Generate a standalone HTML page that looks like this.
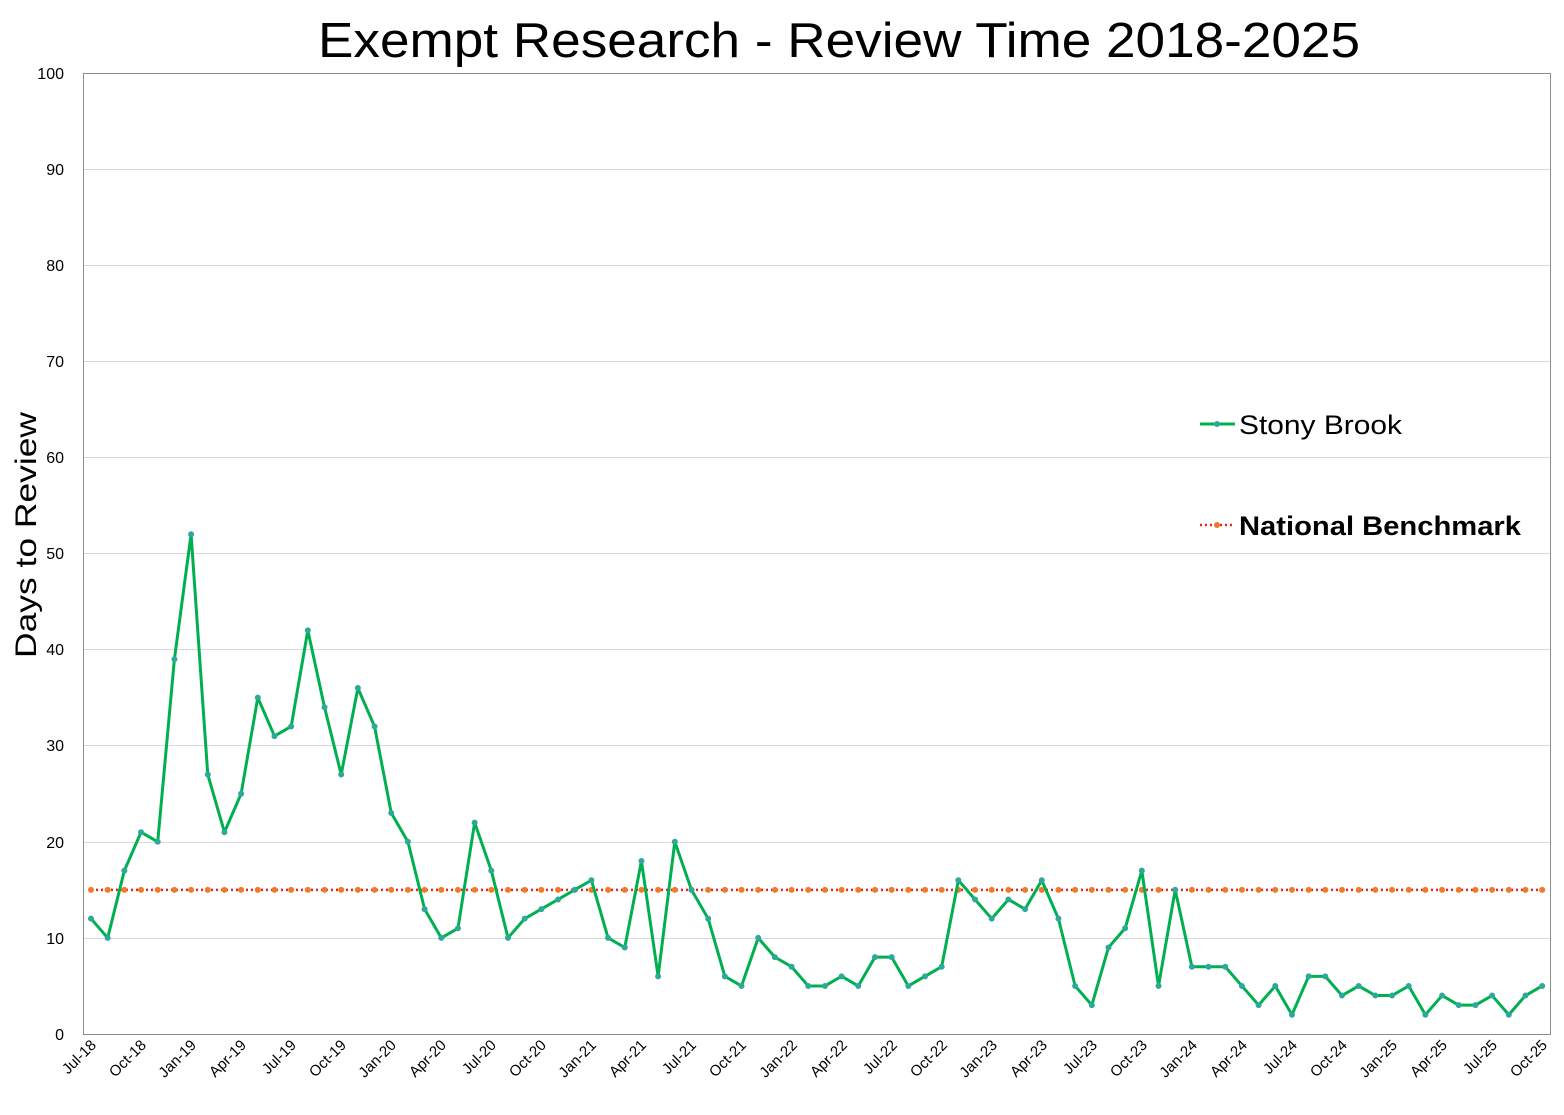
<!DOCTYPE html>
<html><head><meta charset="utf-8"><style>
html,body{margin:0;padding:0;background:#fff;}
svg{display:block;font-family:"Liberation Sans",Arial,sans-serif;}
</style></head><body>
<svg width="1564" height="1115" viewBox="0 0 1564 1115" xmlns="http://www.w3.org/2000/svg">
<rect width="1564" height="1115" fill="#fff"/>
<text x="318" y="57" font-size="49" textLength="1042" lengthAdjust="spacingAndGlyphs" fill="#000">Exempt Research - Review Time 2018-2025</text>
<g stroke="#d9d9d9" stroke-width="1">
<line x1="83" x2="1551" y1="169.5" y2="169.5"/><line x1="83" x2="1551" y1="265.5" y2="265.5"/>
<line x1="83" x2="1551" y1="361.5" y2="361.5"/><line x1="83" x2="1551" y1="457.5" y2="457.5"/>
<line x1="83" x2="1551" y1="553.5" y2="553.5"/><line x1="83" x2="1551" y1="649.5" y2="649.5"/>
<line x1="83" x2="1551" y1="745.5" y2="745.5"/><line x1="83" x2="1551" y1="842.5" y2="842.5"/>
<line x1="83" x2="1551" y1="938.5" y2="938.5"/>
</g>
<rect x="83.5" y="73.5" width="1467" height="961" fill="none" stroke="#8c8c8c" stroke-width="1"/>
<g font-size="16" text-anchor="end" fill="#000">
<text x="64" y="79">100</text><text x="64" y="175">90</text><text x="64" y="271">80</text>
<text x="64" y="367">70</text><text x="64" y="463">60</text><text x="64" y="559">50</text>
<text x="64" y="655">40</text><text x="64" y="751">30</text><text x="64" y="848">20</text>
<text x="64" y="944">10</text><text x="64" y="1040">0</text>
</g>
<text transform="translate(36,658) rotate(-90)" font-size="30" textLength="246" lengthAdjust="spacingAndGlyphs">Days to Review</text>
<g font-size="15" text-anchor="end">
<text transform="translate(97,1046) rotate(-45)">Jul-18</text>
<text transform="translate(147,1046) rotate(-45)">Oct-18</text>
<text transform="translate(197,1046) rotate(-45)">Jan-19</text>
<text transform="translate(247,1046) rotate(-45)">Apr-19</text>
<text transform="translate(297,1046) rotate(-45)">Jul-19</text>
<text transform="translate(347,1046) rotate(-45)">Oct-19</text>
<text transform="translate(397,1046) rotate(-45)">Jan-20</text>
<text transform="translate(447,1046) rotate(-45)">Apr-20</text>
<text transform="translate(497,1046) rotate(-45)">Jul-20</text>
<text transform="translate(547,1046) rotate(-45)">Oct-20</text>
<text transform="translate(597,1046) rotate(-45)">Jan-21</text>
<text transform="translate(647,1046) rotate(-45)">Apr-21</text>
<text transform="translate(697,1046) rotate(-45)">Jul-21</text>
<text transform="translate(747,1046) rotate(-45)">Oct-21</text>
<text transform="translate(798,1046) rotate(-45)">Jan-22</text>
<text transform="translate(848,1046) rotate(-45)">Apr-22</text>
<text transform="translate(898,1046) rotate(-45)">Jul-22</text>
<text transform="translate(948,1046) rotate(-45)">Oct-22</text>
<text transform="translate(998,1046) rotate(-45)">Jan-23</text>
<text transform="translate(1048,1046) rotate(-45)">Apr-23</text>
<text transform="translate(1098,1046) rotate(-45)">Jul-23</text>
<text transform="translate(1148,1046) rotate(-45)">Oct-23</text>
<text transform="translate(1198,1046) rotate(-45)">Jan-24</text>
<text transform="translate(1248,1046) rotate(-45)">Apr-24</text>
<text transform="translate(1298,1046) rotate(-45)">Jul-24</text>
<text transform="translate(1348,1046) rotate(-45)">Oct-24</text>
<text transform="translate(1398,1046) rotate(-45)">Jan-25</text>
<text transform="translate(1448,1046) rotate(-45)">Apr-25</text>
<text transform="translate(1498,1046) rotate(-45)">Jul-25</text>
<text transform="translate(1548,1046) rotate(-45)">Oct-25</text>
</g>
<g transform="translate(91,1034) scale(16.68,-9.61)">
<line x1="0" x2="87" y1="15" y2="15" stroke="#e8261c" stroke-width="2.5" stroke-dasharray="2,3" vector-effect="non-scaling-stroke"/>
<path d="M0,15h0M1,15h0M2,15h0M3,15h0M4,15h0M5,15h0M6,15h0M7,15h0M8,15h0M9,15h0M10,15h0M11,15h0M12,15h0M13,15h0M14,15h0M15,15h0M16,15h0M17,15h0M18,15h0M19,15h0M20,15h0M21,15h0M22,15h0M23,15h0M24,15h0M25,15h0M26,15h0M27,15h0M28,15h0M29,15h0M30,15h0M31,15h0M32,15h0M33,15h0M34,15h0M35,15h0M36,15h0M37,15h0M38,15h0M39,15h0M40,15h0M41,15h0M42,15h0M43,15h0M44,15h0M45,15h0M46,15h0M47,15h0M48,15h0M49,15h0M50,15h0M51,15h0M52,15h0M53,15h0M54,15h0M55,15h0M56,15h0M57,15h0M58,15h0M59,15h0M60,15h0M61,15h0M62,15h0M63,15h0M64,15h0M65,15h0M66,15h0M67,15h0M68,15h0M69,15h0M70,15h0M71,15h0M72,15h0M73,15h0M74,15h0M75,15h0M76,15h0M77,15h0M78,15h0M79,15h0M80,15h0M81,15h0M82,15h0M83,15h0M84,15h0M85,15h0M86,15h0M87,15h0" stroke="#f07a2a" stroke-width="6" stroke-linecap="round" vector-effect="non-scaling-stroke"/>
<polyline fill="none" stroke="#00b050" stroke-width="3" stroke-linejoin="round" vector-effect="non-scaling-stroke" points="0,12 1,10 2,17 3,21 4,20 5,39 6,52 7,27 8,21 9,25 10,35 11,31 12,32 13,42 14,34 15,27 16,36 17,32 18,23 19,20 20,13 21,10 22,11 23,22 24,17 25,10 26,12 27,13 28,14 29,15 30,16 31,10 32,9 33,18 34,6 35,20 36,15 37,12 38,6 39,5 40,10 41,8 42,7 43,5 44,5 45,6 46,5 47,8 48,8 49,5 50,6 51,7 52,16 53,14 54,12 55,14 56,13 57,16 58,12 59,5 60,3 61,9 62,11 63,17 64,5 65,15 66,7 67,7 68,7 69,5 70,3 71,5 72,2 73,6 74,6 75,4 76,5 77,4 78,4 79,5 80,2 81,4 82,3 83,3 84,4 85,2 86,4 87,5"/>
<path d="M0,12h0M1,10h0M2,17h0M3,21h0M4,20h0M5,39h0M6,52h0M7,27h0M8,21h0M9,25h0M10,35h0M11,31h0M12,32h0M13,42h0M14,34h0M15,27h0M16,36h0M17,32h0M18,23h0M19,20h0M20,13h0M21,10h0M22,11h0M23,22h0M24,17h0M25,10h0M26,12h0M27,13h0M28,14h0M29,15h0M30,16h0M31,10h0M32,9h0M33,18h0M34,6h0M35,20h0M36,15h0M37,12h0M38,6h0M39,5h0M40,10h0M41,8h0M42,7h0M43,5h0M44,5h0M45,6h0M46,5h0M47,8h0M48,8h0M49,5h0M50,6h0M51,7h0M52,16h0M53,14h0M54,12h0M55,14h0M56,13h0M57,16h0M58,12h0M59,5h0M60,3h0M61,9h0M62,11h0M63,17h0M64,5h0M65,15h0M66,7h0M67,7h0M68,7h0M69,5h0M70,3h0M71,5h0M72,2h0M73,6h0M74,6h0M75,4h0M76,5h0M77,4h0M78,4h0M79,5h0M80,2h0M81,4h0M82,3h0M83,3h0M84,4h0M85,2h0M86,4h0M87,5h0" stroke="#2ea89a" stroke-width="6" stroke-linecap="round" vector-effect="non-scaling-stroke"/>
</g>
<line x1="1200" x2="1235" y1="424" y2="424" stroke="#00b050" stroke-width="3"/>
<circle cx="1217" cy="424" r="3" fill="#2ea89a"/>
<text x="1239" y="434" font-size="27" textLength="163" lengthAdjust="spacingAndGlyphs">Stony Brook</text>
<line x1="1200" x2="1235" y1="525" y2="525" stroke="#e8261c" stroke-width="2.5" stroke-dasharray="2,3"/>
<circle cx="1217" cy="525" r="3" fill="#f07a2a"/>
<text x="1239" y="535" font-size="27" font-weight="bold" textLength="282" lengthAdjust="spacingAndGlyphs">National Benchmark</text>
</svg>
</body></html>
